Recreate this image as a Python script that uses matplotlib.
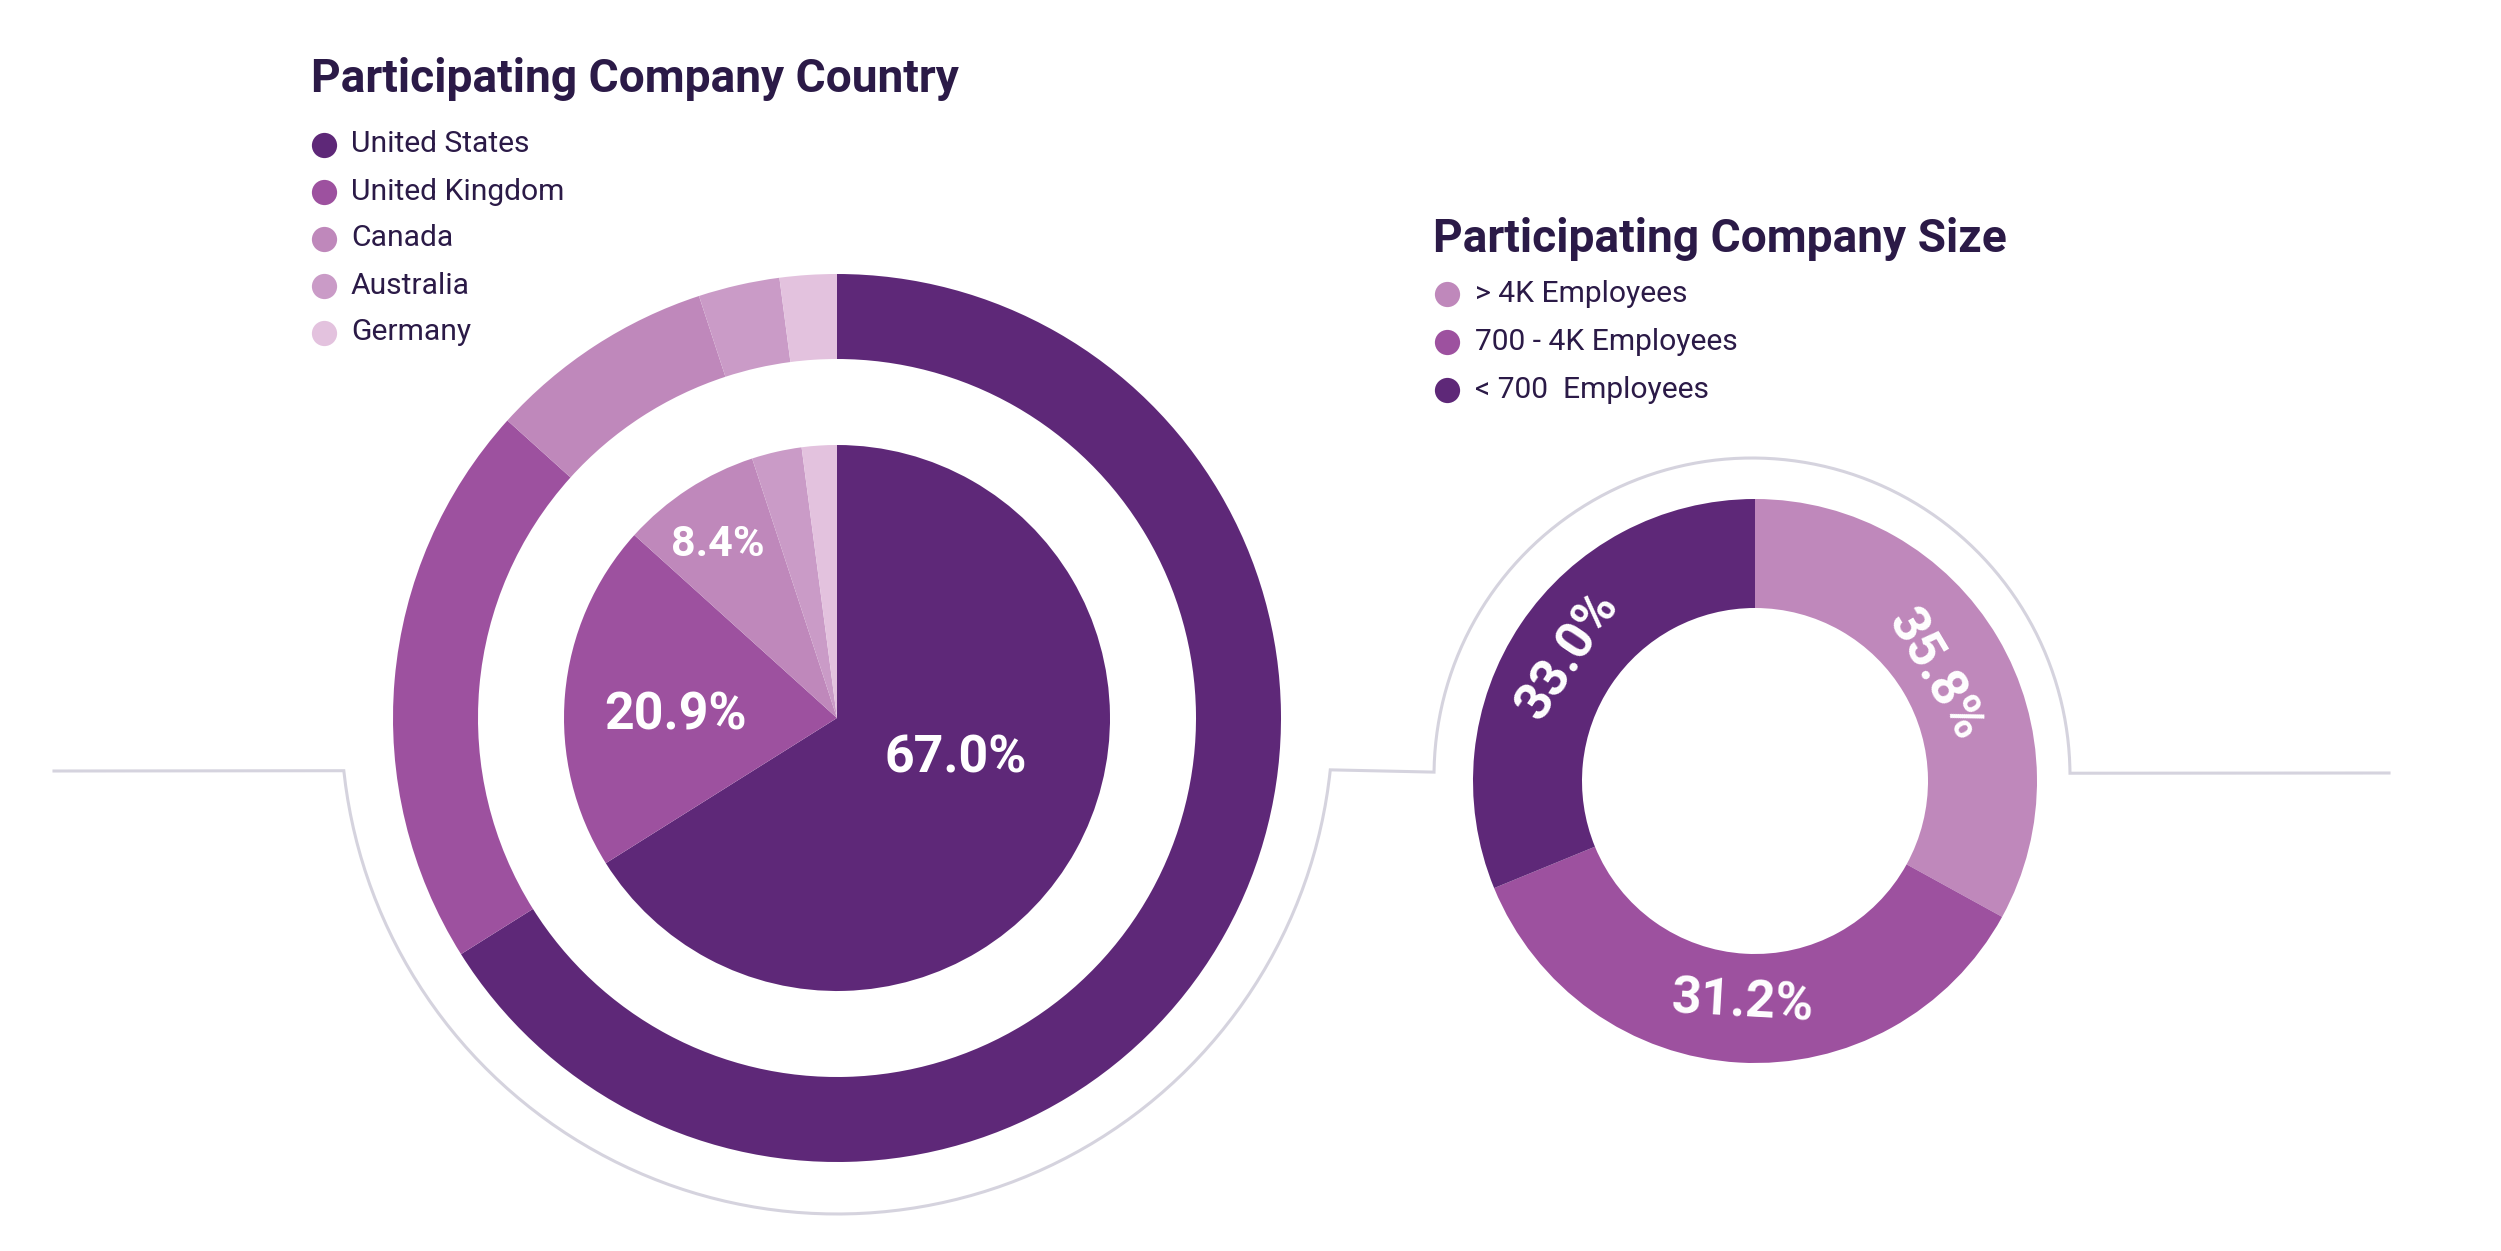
import numpy as np
import matplotlib
matplotlib.use('Agg')
import matplotlib.pyplot as plt

plt.rcParams['font.family'] = ['Roboto', 'DejaVu Sans']

# Data
country_names = ['United States', 'United Kingdom', 'Canada', 'Australia', 'Germany']
country_values = [67.0, 20.9, 8.4, 3.0, 2.1]
country_colors = ['#5e2878', '#9d519f', '#bf88bb', '#ca9bc7', '#e3c2de']
# label placement for the labelled slices: radial fraction, angle tweak (deg)
country_label_pos = [(0.46, 10), (0.59, 4), (0.77, 1.5)]
country_label_size = [37.4, 37.4, 31]

size_names = ['> 4K Employees', '700 - 4K Employees', '< 700  Employees']
size_values = [33.0, 35.8, 31.2]
size_labels = ['35.8%', '31.2%', '33.0%']
size_label_r = [209, 222, 225]
size_colors = ['#bf88bb', '#9d519f', '#5e2878']

W, H = 2501, 1251
DARK = '#2b1a47'
LINE = '#d5d3de'

fig = plt.figure(figsize=(W / 100, H / 100), dpi=100)
ax = fig.add_axes([0, 0, 1, 1])


def Y(y):
    # image row -> axes y
    return H - y


# left chart: pie + outer ring
c1 = (837, Y(718))
ax.pie(country_values, colors=country_colors, radius=273, center=c1,
       startangle=90, counterclock=False, wedgeprops=dict(linewidth=0))
ax.pie(country_values, colors=country_colors, radius=444, center=c1,
       startangle=90, counterclock=False, wedgeprops=dict(width=85, linewidth=0))

fracs = np.array(country_values) / sum(country_values)
cum = np.cumsum(fracs)
for i, (f, tweak) in enumerate(country_label_pos):
    mid = 90 - (cum[i] - fracs[i] / 2) * 360 + tweak
    r = 273 * f
    ax.text(c1[0] + r * np.cos(np.radians(mid)), c1[1] + r * np.sin(np.radians(mid)),
            f'{country_values[i]:.1f}%', color='white', fontsize=country_label_size[i],
            fontweight='bold', ha='center', va='center')

# right chart: donut
c2 = (1755, Y(781))
ax.pie(size_values, colors=size_colors, radius=282, center=c2,
       startangle=90, counterclock=False, wedgeprops=dict(width=109, linewidth=0))
sfr = np.array(size_values) / sum(size_values)
scum = np.cumsum(sfr)
for i, lab in enumerate(size_labels):
    mid = 90 - (scum[i] - sfr[i] / 2) * 360
    rot = (mid - 90) % 360
    if rot > 180:
        rot -= 360
    if rot < -90:
        rot += 180
    if rot > 90:
        rot -= 180
    r = size_label_r[i]
    ax.text(c2[0] + r * np.cos(np.radians(mid)), c2[1] + r * np.sin(np.radians(mid)),
            lab, color='white', fontsize=37.4, fontweight='bold',
            ha='center', va='center', rotation=rot, rotation_mode='anchor')

# gray outline around both charts
t1 = np.radians(np.linspace(186.1, 354.0, 200))
t2 = np.radians(np.linspace(179.3, 0.5, 200))
a2c = (1752, Y(776))
xs = np.concatenate([[54], c1[0] + 496 * np.cos(t1), a2c[0] + 318 * np.cos(t2), [2389]])
ys = np.concatenate([[Y(771)], c1[1] + 496 * np.sin(t1), a2c[1] + 318 * np.sin(t2), [Y(773)]])
ax.plot(xs, ys, color=LINE, lw=2.2, zorder=0, solid_joinstyle='miter')

# titles and legends
ax.text(311, Y(92), 'Participating Company Country', fontsize=33.2, fontweight='bold',
        color=DARK, ha='left', va='baseline')
for i, name in enumerate(country_names):
    yy = Y(144.5 + 47 * i)
    ax.scatter([324], [yy], s=330, color=country_colors[i], lw=0)
    ax.text(351, yy, name, fontsize=21.6, color=DARK, ha='left', va='center')

ax.text(1433, Y(252), 'Participating Company Size', fontsize=33.2, fontweight='bold',
        color=DARK, ha='left', va='baseline')
for i, name in enumerate(size_names):
    yy = Y(294 + 48 * i)
    ax.scatter([1447], [yy], s=330, color=size_colors[i], lw=0)
    ax.text(1475, yy, name, fontsize=21.6, color=DARK, ha='left', va='center')

ax.set_xlim(0, W)
ax.set_ylim(0, H)
ax.set_aspect('equal')
ax.axis('off')

fig.savefig('out.png', dpi=100, facecolor='white')
